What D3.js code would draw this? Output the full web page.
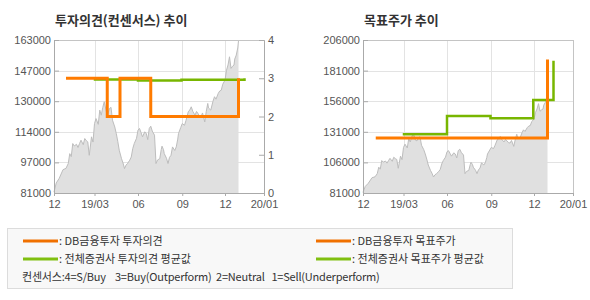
<!DOCTYPE html>
<html>
<head>
<meta charset="utf-8">
<script src="https://cdn.jsdelivr.net/npm/d3@7"></script>
<style>
  body { margin: 0; background: #fff; }
  .tick text { font-family: "Liberation Sans", Arial, sans-serif; font-size: 11px; fill: #555; }
  .title { font-family: "Noto Sans CJK KR", sans-serif; font-size: 13px; font-weight: bold; fill: #333; }
  .legend text { font-family: "Noto Sans CJK KR", sans-serif; font-size: 11px; fill: #333; white-space: pre; }
</style>
</head>
<body>
<svg width="590" height="300"></svg>
<script>
// 주가 (거래일 인덱스 / 종가)
const priceDays = [0, 3, 7, 12, 16, 19, 21, 23, 25, 27, 30, 32, 34, 36, 39, 41, 43, 45, 47, 50, 52, 54, 56, 59, 61, 63, 65, 67, 70, 72, 74, 76, 78, 81, 83, 85, 87, 90, 92, 94, 96, 98, 101, 103, 105, 107, 110, 112, 114, 116, 118, 121, 123, 125, 127, 129, 131, 134, 136, 138, 141, 143, 144, 146, 147, 150, 152, 154, 156, 158, 161, 163, 165, 166, 169, 171, 174, 176, 179, 181, 183, 185, 188, 190, 192, 194, 196, 198, 201, 203, 205, 206, 209, 212, 214, 216, 219, 221, 223, 225, 228, 230, 232, 234, 236, 238, 240, 241, 243, 245, 246];
const prices = [81500, 86400, 88900, 93500, 94200, 96800, 102100, 100500, 107500, 106200, 107100, 105400, 107500, 109300, 106900, 110200, 109100, 108400, 101200, 111100, 108300, 118200, 120900, 117800, 125400, 122700, 126800, 129900, 124100, 123600, 126300, 126900, 120000, 116400, 112900, 108700, 103900, 99400, 97100, 94100, 95900, 96800, 98600, 100300, 104800, 107500, 110300, 114700, 115600, 113400, 111100, 113800, 112900, 109600, 115600, 116800, 114200, 112000, 96800, 98700, 99400, 104300, 106100, 104200, 102100, 99600, 96800, 100100, 101200, 105700, 103800, 105700, 109900, 112900, 116100, 118200, 117300, 119900, 124500, 125500, 127200, 124800, 122700, 124700, 123600, 122100, 121800, 123900, 119100, 124700, 129000, 126600, 125400, 130200, 132600, 131300, 134400, 135700, 136100, 139300, 141500, 146800, 149600, 154000, 147800, 148900, 149600, 152800, 154900, 158700, 162600];

const xTickDays = [0, 54, 112, 171, 228, 280];
const xTickLabels = ['12', '19/03', '06', '09', '12', '20/01'];

// 투자의견 차트
const opinionPriceTicks = [81000, 97400, 113800, 130200, 146600, 163000];
const opinionPriceLabels = ['81000', '97000', '114000', '130000', '147000', '163000'];
const opinionTicks = [0, 1, 2, 3, 4];
const dbOpinionDays = [16, 71, 88, 129, 246];
const dbOpinion = [3, 2, 3, 2, 3];
const avgOpinionDays = [53, 112, 170, 254];
const avgOpinion = [2.97, 2.94, 2.96, 3.0];

// 목표주가 차트
const targetTicks = [81000, 106000, 131000, 156000, 181000, 206000];
const dbTargetDays = [17, 246];
const dbTarget = [126000, 190000];
const avgTargetDays = [53, 112, 170, 227, 254];
const avgTarget = [129000, 144000, 142000, 157000, 189000];

const ORANGE = '#ff7b00';
const GREEN = '#78b600';

const svg = d3.select('svg');
const pw = 210, ph = 153, plotTop = 40;

const x = d3.scaleLinear().domain([0, 280]).range([0, pw]);

function panel(left, title, yDomain, yTicks, yLabels) {
    const g = svg.append('g').attr('transform', `translate(${left},${plotTop})`);
    const y = d3.scaleLinear().domain(yDomain).range([ph, 0]);

    svg.append('text').attr('class', 'title')
        .attr('x', left + 1).attr('y', 25).text(title);

    // 그리드
    g.append('g').selectAll('line').data(yTicks.slice(1, -1)).enter().append('line')
        .attr('x1', 0).attr('x2', pw)
        .attr('y1', (d) => Math.round(y(d)) + 0.5).attr('y2', (d) => Math.round(y(d)) + 0.5)
        .attr('stroke', '#e3e3e3');
    g.append('g').selectAll('line').data(xTickDays.slice(1, -1)).enter().append('line')
        .attr('y1', 0).attr('y2', ph)
        .attr('x1', (d) => Math.round(x(d)) + 0.5).attr('x2', (d) => Math.round(x(d)) + 0.5)
        .attr('stroke', '#e3e3e3');

    // 주가 영역
    const pts = priceDays.map((d, i) => [d, prices[i]]);
    g.append('path').datum(pts)
        .attr('fill', '#e0e0e0')
        .attr('d', d3.area().x((d) => x(d[0])).y0(ph).y1((d) => y(d[1])));
    g.append('path').datum(pts)
        .attr('fill', 'none').attr('stroke', '#bdbdbd').attr('stroke-width', 1)
        .attr('d', d3.line().x((d) => x(d[0])).y((d) => y(d[1])));

    // 테두리
    g.append('rect').attr('x', 0.5).attr('y', 0.5).attr('width', pw).attr('height', ph)
        .attr('fill', 'none').attr('stroke', '#c4c4c4');

    const ax = g.append('g').attr('transform', `translate(0,${ph})`)
        .call(d3.axisBottom(x).tickValues(xTickDays)
            .tickFormat((d, i) => xTickLabels[i]).tickSize(3).tickSizeOuter(0).tickPadding(4));
    const ay = g.append('g')
        .call(d3.axisLeft(y).tickValues(yTicks)
            .tickFormat((d, i) => yLabels[i]).tickSize(-5).tickSizeOuter(0).tickPadding(3));
    [ax, ay].forEach((a) => {
        a.select('.domain').attr('stroke', '#aaa');
        a.selectAll('.tick line').attr('stroke', '#aaa');
    });
    return { g, y };
}

function stepLine(g, xs, ys, yScale, color, w) {
    g.append('path').datum(xs.map((d, i) => [d, ys[i]]))
        .attr('fill', 'none').attr('stroke', color).attr('stroke-width', w)
        .attr('d', d3.line().x((d) => x(d[0])).y((d) => yScale(d[1])).curve(d3.curveStepAfter));
}

// 투자의견(컨센서스) 추이
const p1 = panel(54, '투자의견(컨센서스) 추이', [81000, 163000], opinionPriceTicks, opinionPriceLabels);
const yOp = d3.scaleLinear().domain([0, 4]).range([ph, 0]);
const ar = p1.g.append('g').attr('transform', `translate(${pw},0)`)
    .call(d3.axisRight(yOp).tickValues(opinionTicks).tickFormat(d3.format('d'))
        .tickSize(-5).tickSizeOuter(0).tickPadding(4));
ar.select('.domain').attr('stroke', '#aaa');
ar.selectAll('.tick line').attr('stroke', '#aaa');
stepLine(p1.g, avgOpinionDays, avgOpinion, yOp, GREEN, 2.5);
stepLine(p1.g, dbOpinionDays, dbOpinion, yOp, ORANGE, 3);

// 목표주가 추이
const p2 = panel(363, '목표주가 추이', [81000, 206000], targetTicks, targetTicks.map(String));
stepLine(p2.g, avgTargetDays, avgTarget, p2.y, GREEN, 2.5);
stepLine(p2.g, dbTargetDays, dbTarget, p2.y, ORANGE, 3);

// 범례
const lg = svg.append('g').attr('class', 'legend');
lg.append('rect').attr('x', 7.5).attr('y', 228.5).attr('width', 505).attr('height', 60)
    .attr('fill', '#f8f8f8').attr('stroke', '#dcdcdc');
const legendItems = [
    { x: 23, y: 241, color: '#f07000', label: ': DB금융투자 투자의견' },
    { x: 23, y: 259, color: '#80bf10', label: ': 전체증권사 투자의견 평균값' },
    { x: 316, y: 241, color: '#f07000', label: ': DB금융투자 목표주가' },
    { x: 316, y: 259, color: '#80bf10', label: ': 전체증권사 목표주가 평균값' },
];
legendItems.forEach((d) => {
    lg.append('line').attr('x1', d.x).attr('x2', d.x + 35).attr('y1', d.y).attr('y2', d.y)
        .attr('stroke', d.color).attr('stroke-width', 3);
    lg.append('text').attr('x', d.x + 36).attr('y', d.y + 4).text(d.label);
});
lg.append('text').attr('x', 22).attr('y', 281).attr('letter-spacing', -0.2)
    .text('컨센서스:4=S/Buy    3=Buy(Outperform)  2=Neutral   1=Sell(Underperform)');
</script>
</body>
</html>
